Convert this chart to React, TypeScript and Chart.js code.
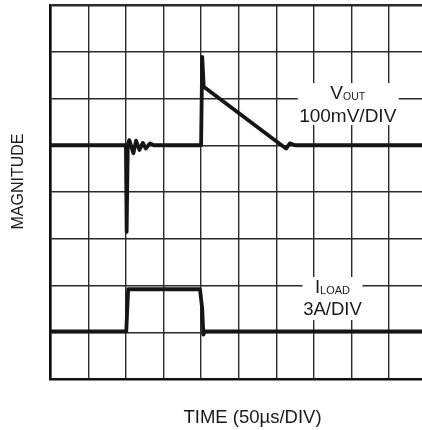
import React, { useEffect, useRef } from "react";
import { Chart, registerables } from "chart.js";

Chart.register(...registerables);

// time in µs (50 µs per division), magnitude in divisions (0..8)
const VOUT_T = [0, 100, 101, 102.5, 104.5, 110, 113.5, 118, 122.5, 126.5, 132, 137, 200, 201.5, 203.5, 307, 313, 318, 325, 500];
const VOUT_V = [5.0, 5.0, 3.15, 5.0, 5.11, 4.83, 5.1, 4.9, 5.05, 4.93, 5.04, 5.0, 5.0, 6.89, 6.25, 5.0, 4.93, 5.04, 5.0, 5.0];

const ILOAD_T = [0, 100.5, 103, 198.5, 201.5, 203, 205, 500];
const ILOAD_V = [1.02, 1.02, 1.92, 1.92, 1.5, 0.95, 1.02, 1.02];

const X_TITLE = "TIME (50µs/DIV)";
const Y_TITLE = "MAGNITUDE";
const VOUT_LABEL = ["V", "OUT", "100mV/DIV"];
const ILOAD_LABEL = ["I", "LOAD", "3A/DIV"];

const FONT = "'Liberation Sans', Arial, sans-serif";

const textPlugin = {
  id: "texts",
  afterDraw(chart: any) {
    const ctx = chart.ctx as CanvasRenderingContext2D;
    const xs = chart.scales.x;
    const ys = chart.scales.y;
    ctx.save();
    ctx.fillStyle = "#1a1a1a";

    // Y title
    ctx.save();
    ctx.translate(23, 181.5);
    ctx.rotate(-Math.PI / 2);
    ctx.font = `16px ${FONT}`;
    ctx.textAlign = "center";
    ctx.textBaseline = "alphabetic";
    ctx.fillText(Y_TITLE, 0, 0);
    ctx.restore();

    // X title
    ctx.font = `18.5px ${FONT}`;
    ctx.textAlign = "center";
    ctx.fillText(X_TITLE, 252.5, 423);

    // VOUT label
    const vx = xs.getPixelForValue(395);
    const vy = ys.getPixelForValue(5.88);
    ctx.fillStyle = "#ffffff";
    ctx.fillRect(vx - 50, vy - 21, 101, 42);
    ctx.fillStyle = "#1a1a1a";
    ctx.textAlign = "left";
    ctx.font = `19px ${FONT}`;
    const vW = ctx.measureText(VOUT_LABEL[0]).width;
    ctx.font = `10.5px ${FONT}`;
    const oW = ctx.measureText(VOUT_LABEL[1]).width;
    const sx = vx - (vW + oW) / 2;
    ctx.font = `19px ${FONT}`;
    ctx.fillText(VOUT_LABEL[0], sx, vy - 5);
    ctx.font = `10.5px ${FONT}`;
    ctx.fillText(VOUT_LABEL[1], sx + vW, vy - 4.5);
    ctx.font = `19px ${FONT}`;
    ctx.textAlign = "center";
    ctx.fillText(VOUT_LABEL[2], vx, vy + 17.5);

    // ILOAD label
    const ix = xs.getPixelForValue(374.7);
    const iy = ys.getPixelForValue(1.72);
    ctx.fillStyle = "#ffffff";
    ctx.fillRect(ix - 30, iy - 21.5, 60, 43);
    ctx.fillStyle = "#1a1a1a";
    ctx.textAlign = "left";
    ctx.font = `18.5px ${FONT}`;
    const iW = ctx.measureText(ILOAD_LABEL[0]).width;
    ctx.font = `11px ${FONT}`;
    const lW = ctx.measureText(ILOAD_LABEL[1]).width;
    const isx = ix - (iW + lW) / 2;
    ctx.font = `18.5px ${FONT}`;
    ctx.fillText(ILOAD_LABEL[0], isx, iy - 5.5);
    ctx.font = `11px ${FONT}`;
    ctx.fillText(ILOAD_LABEL[1], isx + iW, iy - 4.5);
    ctx.font = `18.5px ${FONT}`;
    ctx.textAlign = "center";
    ctx.fillText(ILOAD_LABEL[2], ix, iy + 16.5);

    ctx.restore();
  },
};

export default function App() {
  const ref = useRef<HTMLCanvasElement>(null);
  useEffect(() => {
    document.body.style.margin = "0";
    document.body.style.overflow = "hidden";
    const canvas = ref.current;
    if (!canvas) return;
    const toPts = (t: number[], v: number[]) => t.map((x, i) => ({ x, y: v[i] }));
    const lineDs = (label: string, t: number[], v: number[]) => ({
      label,
      data: toPts(t, v),
      showLine: true,
      borderColor: "#151515",
      backgroundColor: "#151515",
      borderWidth: 3.8,
      pointRadius: 0,
      pointHoverRadius: 0,
      tension: 0,
      borderJoinStyle: "round",
      borderCapStyle: "round",
    });
    const chart = new Chart(canvas, {
      type: "scatter",
      data: {
        datasets: [lineDs("VOUT", VOUT_T, VOUT_V), lineDs("ILOAD", ILOAD_T, ILOAD_V)],
      },
      options: {
        responsive: false,
        animation: false,
        events: [],
        layout: { padding: { left: 50.7, top: 5, right: 13.3, bottom: 51 } },
        plugins: { legend: { display: false }, tooltip: { enabled: false } },
        scales: {
          x: {
            type: "linear",
            min: 0,
            max: 500,
            afterFit: (s: any) => { s.height = 0; },
            ticks: { display: false, stepSize: 50 },
            grid: { color: "#2a2a2a", lineWidth: 1.4, drawTicks: false },
            border: { display: true, color: "#111", width: 2.5 },
          },
          y: {
            type: "linear",
            min: 0,
            max: 8,
            afterFit: (s: any) => { s.width = 0; },
            ticks: { display: false, stepSize: 1 },
            grid: {
              color: "#2a2a2a",
              lineWidth: (c: any) => (c.tick && c.tick.value === 8 ? 2.6 : 1.4),
              drawTicks: false,
            },
            border: { display: true, color: "#111", width: 2.5 },
          },
        },
      },
      plugins: [textPlugin],
    } as any);
    return () => chart.destroy();
  }, []);
  return (
    <div style={{ width: 422, height: 430, overflow: "hidden" }}>
      <canvas ref={ref} width={440} height={430} style={{ display: "block" }} />
    </div>
  );
}
